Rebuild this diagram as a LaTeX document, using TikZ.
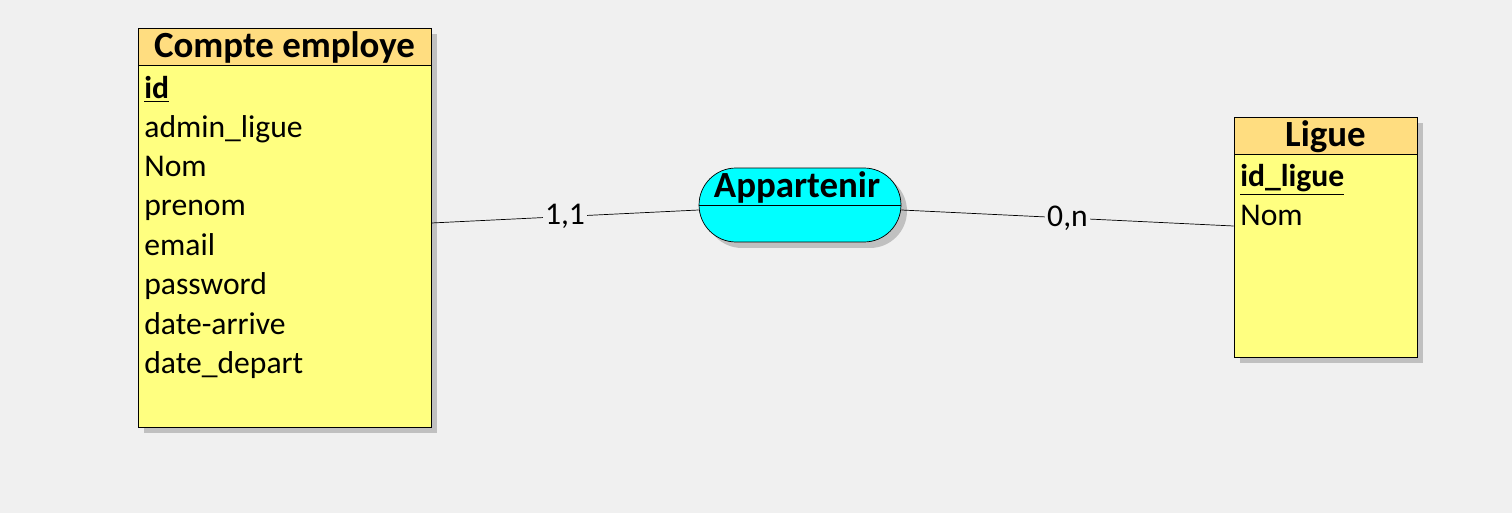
\documentclass[tikz,border=0pt]{standalone}
\usepackage{fontspec}
\setmainfont{Carlito}
\usetikzlibrary{shapes.misc,shadows}
\definecolor{bgcol}{HTML}{F0F0F0}
\definecolor{headcol}{HTML}{FFDD80}
\definecolor{bodycol}{HTML}{FFFF80}
\definecolor{shadcol}{HTML}{C0C0C0}
\definecolor{assoccol}{HTML}{00FFFF}
\tikzstyle{shad} = [drop shadow={shadow xshift=0.12cm, shadow yshift=-0.12cm, fill=shadcol, opacity=1}]
\tikzstyle{enthead} = [rectangle, draw, fill=headcol, shad, inner sep=0pt,
    minimum height=0.74cm]
\tikzstyle{entbody} = [rectangle, draw, fill=bodycol, shad, inner sep=0pt]
\tikzstyle{title} = [anchor=base, inner sep=0pt, font=\fontsize{21}{24}\selectfont\bfseries]
\tikzstyle{attr} = [anchor=base west, inner sep=0pt, font=\fontsize{18}{21}\selectfont]
\tikzstyle{assoc} = [rounded rectangle, draw, fill=assoccol, shad, inner sep=0pt,
    minimum width=4.04cm, minimum height=1.48cm]
\tikzstyle{card} = [fill=bgcol, inner sep=1pt, font=\fontsize{18}{21}\selectfont]
\tikzstyle{line} = [draw]

\begin{document}
\begin{tikzpicture}[x=0.02cm, y=-0.02cm]
 \fill [bgcol] (0,0) rectangle (1512,513);
 \useasboundingbox (0,0) rectangle (1512,513);
 % entite Compte employe
 \node at (284.5,46.5) [enthead, minimum width=5.86cm] (emphead) {};
 \node at (284.5,246) [entbody, minimum width=5.86cm, minimum height=7.24cm] (empbody) {};
 \node at (284.5,58) [title] (emptitle) {Compte employe};
 \node at (144,99) [attr] (id) {\textbf{\underline{id}}};
 \node at (144,138) [attr] (admin) {admin\_ligue};
 \node at (144,177) [attr] (nom) {Nom};
 \node at (144,216) [attr] (prenom) {prenom};
 \node at (144,256) [attr] (email) {email};
 \node at (144,295) [attr] (password) {password};
 \node at (144,335) [attr] (arrive) {date-arrive};
 \node at (144,374) [attr] (depart) {date\_depart};
 % entite Ligue
 \node at (1325.5,135.5) [enthead, minimum width=3.66cm] (liguehead) {};
 \node at (1325.5,255.5) [entbody, minimum width=3.66cm, minimum height=4.06cm] (liguebody) {};
 \node at (1325.5,147) [title] (liguetitle) {Ligue};
 \node at (1240,187) [attr] (idligue) {\textbf{\underline{id\_ligue}}};
 \node at (1240,226) [attr] (nomligue) {Nom};
 % association
 \node at (800,205) [assoc] (appart) {};
 \draw (appart.west) -- (appart.east);
 \node at (797,198) [title] (appartlbl) {Appartenir};
 % pattes
 \path [line] ([yshift=0.46cm]empbody.east) -- ([yshift=-0.1cm]appart.west)
    node [card, midway] (c11) {1,1};
 \path [line] ([yshift=-0.1cm]appart.east) -- ([yshift=0.59cm]liguebody.west)
    node [card, midway] (c0n) {0,n};
\end{tikzpicture}
\end{document}
